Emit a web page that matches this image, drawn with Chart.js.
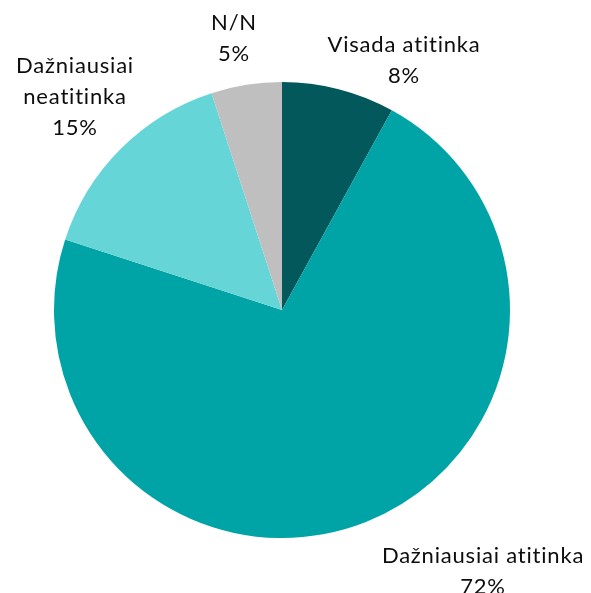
<!DOCTYPE html>
<html>
<head>
<meta charset="utf-8">
<script src="https://cdn.jsdelivr.net/npm/chart.js@4"></script>
<style>
  html, body { margin: 0; padding: 0; background: #fff; }
  #wrap { width: 591px; height: 593px; }
</style>
</head>
<body>
<div id="wrap"><canvas id="pie"></canvas></div>
<script>
// Data
const categories = ["Visada atitinka", "Dažniausiai atitinka", "Dažniausiai neatitinka", "N/N"];
const values = [8, 72, 15, 5];
const labelLines = [["Visada atitinka", "8%"], ["Dažniausiai atitinka", "72%"], ["Dažniausiai", "neatitinka", "15%"], ["N/N", "5%"]];
const colors = ["#03585C", "#00A3A6", "#66D5D8", "#BFBFBF"];

// label block centre, offset from pie centre
const labelOffsets = [[122, -250], [201, 261], [-207, -213], [-48, -272]];

const outsideLabels = {
    id: "outsideLabels",
    afterDraw(chart) {
        const ctx = chart.ctx;
        const arcs = chart.getDatasetMeta(0).data;
        ctx.save();
        ctx.font = "22px Lato";
        ctx.letterSpacing = "0.8px";
        ctx.fillStyle = "#0d0d0d";
        ctx.textAlign = "center";
        ctx.textBaseline = "middle";
        const lh = 31;
        arcs.forEach((arc, i) => {
            const lines = labelLines[i];
            const cx = arc.x + labelOffsets[i][0];
            const cy = arc.y + labelOffsets[i][1];
            const top = cy - (lines.length - 1) * lh / 2;
            lines.forEach((t, j) => ctx.fillText(t, cx, top + j * lh));
        });
        ctx.restore();
    }
};

new Chart(document.getElementById("pie"), {
    type: "pie",
    data: {
        labels: categories,
        datasets: [{
            data: values,
            backgroundColor: colors,
            borderWidth: 0
        }]
    },
    options: {
        responsive: true,
        maintainAspectRatio: false,
        animation: false,
        layout: { padding: { top: 82, bottom: 55, left: 54, right: 81 } },
        plugins: {
            legend: { display: false },
            tooltip: { enabled: false }
        }
    },
    plugins: [outsideLabels]
});
</script>
</body>
</html>
